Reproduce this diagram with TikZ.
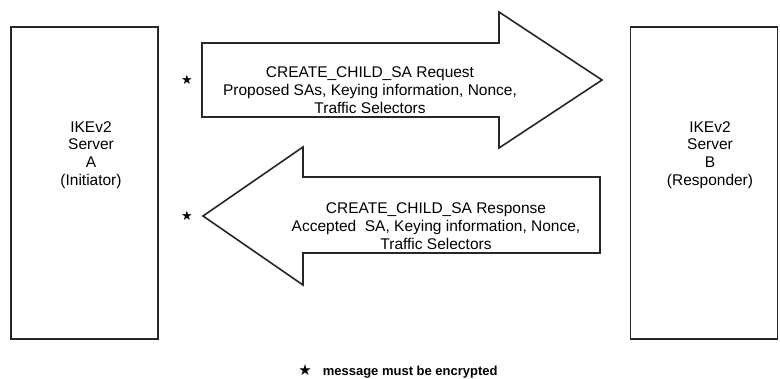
\documentclass[tikz,border=0pt]{standalone}
\usepackage{fontspec}
\setmainfont{Liberation Sans}
\newfontfamily\symfont{DejaVu Sans}
\usetikzlibrary{positioning}

\begin{document}
\begin{tikzpicture}[x=1pt,y=-1pt,line width=1.6pt,
  server/.style={draw=black!85,minimum width=147pt,minimum height=312pt,inner sep=0pt},
  lbl/.style={align=center,font=\fontsize{15.5}{17.8}\selectfont,inner sep=0pt},
  encmark/.style={font=\symfont\fontsize{13}{13}\selectfont,inner sep=0pt}]
  \useasboundingbox (0,0) rectangle (780,379);
  % the two servers
  \node[server] (srvA) at (84.5,183) {};
  \node[server] (srvB) at (704,183) {};
  \node[lbl] (txtA) at (91,155) {IKEv2\\Server\\A\\(Initiator)};
  \node[lbl] (txtB) at (710,155) {IKEv2\\Server\\B\\(Responder)};
  % request, A to B
  \draw[black!85,line join=miter] (202,43) -- (499,43) -- (499,12) -- (602,80)
    -- (499,148) -- (499,117) -- (202,117) -- cycle;
  \node[lbl] (req) at (370,90) {CREATE\_CHILD\_SA Request\\
    Proposed SAs, Keying information, Nonce,\\Traffic Selectors};
  \node[encmark] (encReq) at (187,80) {★};
  % response, B to A
  \draw[black!85,line join=miter] (600,177) -- (303,177) -- (303,147) -- (203,216)
    -- (303,285) -- (303,253) -- (600,253) -- cycle;
  \node[lbl] (resp) at (436,226) {CREATE\_CHILD\_SA Response\\
    Accepted\ \ SA, Keying information, Nonce,\\Traffic Selectors};
  \node[encmark] (encResp) at (187,216) {★};
  % legend
  \node[encmark,font=\symfont\fontsize{15}{15}\selectfont] (encKey) at (305,370) {★};
  \node[anchor=base west,inner sep=0pt,font=\bfseries\fontsize{13}{13}\selectfont]
    (keyTxt) at (322,376) {message must be encrypted};
\end{tikzpicture}
\end{document}
